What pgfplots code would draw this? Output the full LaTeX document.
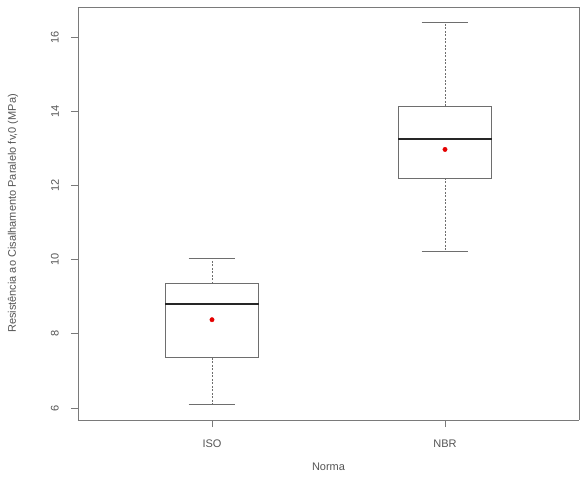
\documentclass[border=0pt]{standalone}
\usepackage{pgfplots}
\pgfplotsset{compat=1.18}
\usepackage{fontspec}
\setmainfont{Liberation Sans}
\definecolor{txt}{HTML}{555555}
\definecolor{axc}{HTML}{7A7A7A}
\definecolor{boxc}{HTML}{6E6E6E}
\begin{document}
\begin{tikzpicture}
\begin{axis}[
  at={(0,0)}, anchor=south west,
  scale only axis, width=501pt, height=413pt,
  xmin=0.425, xmax=2.575, ymin=5.676, ymax=16.81,
  xtick={1,2}, xticklabels={ISO,NBR},
  ytick={6,8,10,12,14,16},
  axis line style={axc, line width=0.9pt},
  tick style={axc, line width=0.8pt},
  tick align=outside, major tick length=7pt,
  axis x line*=bottom, axis y line*=left,
  ticklabel style={font=\fontsize{11}{13}\selectfont, text=txt},
  /pgf/number format/assume math mode=true,
  yticklabel style={rotate=90, anchor=south, inner sep=0pt, yshift=12pt},
  xticklabel style={anchor=north, inner sep=0pt, yshift=-13pt},
  ylabel={Resistência ao Cisalhamento Paralelo fv,0 (MPa)},
  xlabel={Norma},
  label style={font=\fontsize{11}{13}\selectfont, text=txt},
  ylabel style={at={(axis description cs:-0.1297,0.5)}, anchor=center},
  xlabel style={at={(axis description cs:0.5,-0.113)}, anchor=center},
  clip=false,
]
% frame top and right
\addplot[axc, line width=0.9pt] coordinates {(0.425,16.81) (2.575,16.81) (2.575,5.676)};
% ISO
\addplot[boxc, line width=0.9pt, dash pattern=on 2pt off 1.5pt] coordinates {(1,9.35) (1,10.03)};
\addplot[boxc, line width=0.9pt, dash pattern=on 2pt off 1.5pt] coordinates {(1,7.35) (1,6.10)};
\addplot[boxc, line width=0.9pt] coordinates {(0.9,10.03) (1.1,10.03)};
\addplot[boxc, line width=0.9pt] coordinates {(0.9,6.10) (1.1,6.10)};
\addplot[boxc, line width=0.9pt, fill=white] coordinates {(0.8,7.35) (1.2,7.35) (1.2,9.35) (0.8,9.35)} -- cycle;
\addplot[black!85, line width=1.8pt] coordinates {(0.8,8.80) (1.2,8.80)};
\addplot[only marks, mark=*, mark size=2.2pt, red!90!black] coordinates {(1,8.38)};
% NBR
\addplot[boxc, line width=0.9pt, dash pattern=on 2pt off 1.5pt] coordinates {(2,14.14) (2,16.38)};
\addplot[boxc, line width=0.9pt, dash pattern=on 2pt off 1.5pt] coordinates {(2,12.20) (2,10.22)};
\addplot[boxc, line width=0.9pt] coordinates {(1.9,16.38) (2.1,16.38)};
\addplot[boxc, line width=0.9pt] coordinates {(1.9,10.22) (2.1,10.22)};
\addplot[boxc, line width=0.9pt, fill=white] coordinates {(1.8,12.20) (2.2,12.20) (2.2,14.14) (1.8,14.14)} -- cycle;
\addplot[black!85, line width=1.8pt] coordinates {(1.8,13.25) (2.2,13.25)};
\addplot[only marks, mark=*, mark size=2.2pt, red!90!black] coordinates {(2,12.97)};
\end{axis}
\pgfresetboundingbox
\path[use as bounding box] (-78pt,-56pt) rectangle (507pt,420pt);
\end{tikzpicture}
\end{document}
